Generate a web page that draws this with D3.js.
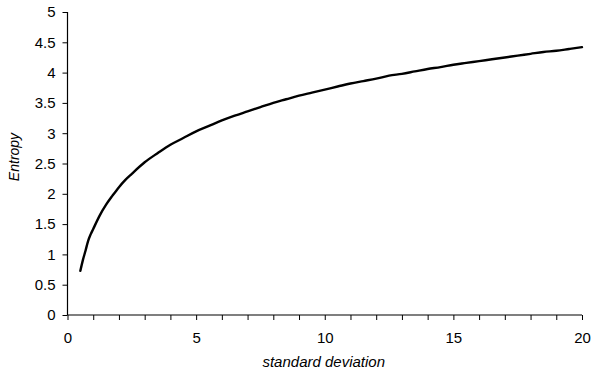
<!DOCTYPE html>
<html>
<head>
<meta charset="utf-8">
<script src="https://cdn.jsdelivr.net/npm/d3@7"></script>
<style>
  html, body { margin: 0; padding: 0; background: #fff; }
  svg { display: block; font-family: "Liberation Sans", Arial, sans-serif; }
</style>
</head>
<body>
<svg id="chart" width="591" height="375"></svg>
<script>
// Standard deviation (x) and the entropy measured at each value (y)
const sigma = [0.5, 0.6, 0.7, 0.8, 0.9, 1.0, 1.25, 1.5, 1.75, 2.0, 2.25, 2.5, 3.0, 3.5, 4.0, 4.5,
  5.0, 5.5, 6.0, 6.5, 7.0, 7.5, 8.0, 8.5, 9.0, 9.5, 10, 10.5, 11, 11.5, 12, 12.5, 13, 13.5,
  14, 14.5, 15, 15.5, 16, 16.5, 17, 17.5, 18, 18.5, 19, 19.5, 20];
const entropy = [0.73, 0.91, 1.06, 1.22, 1.33, 1.42, 1.64, 1.82, 1.97, 2.11, 2.23, 2.33, 2.52, 2.67, 2.81, 2.92,
  3.03, 3.12, 3.21, 3.29, 3.36, 3.43, 3.50, 3.56, 3.62, 3.67, 3.72, 3.77, 3.82, 3.86, 3.90, 3.95, 3.98, 4.02,
  4.06, 4.09, 4.13, 4.16, 4.19, 4.22, 4.25, 4.28, 4.31, 4.34, 4.36, 4.39, 4.42];
const xTickLabels = [0, 5, 10, 15, 20];
const yTickLabels = [0, 0.5, 1, 1.5, 2, 2.5, 3, 3.5, 4, 4.5, 5];

const svg = d3.select("#chart");
const plotLeft = 67.5, plotRight = 582, plotTop = 12, plotBottom = 315;

const x = d3.scaleLinear().domain([0, 20]).range([plotLeft, plotRight]);
const y = d3.scaleLinear().domain([0, 5]).range([plotBottom, plotTop]);

// y axis
const yAxis = svg.append("g")
  .attr("transform", `translate(${plotLeft},0)`)
  .call(d3.axisLeft(y).tickValues(yTickLabels).tickSize(5).tickPadding(7)
    .tickFormat(d => String(d)));
// x axis: minor ticks each unit, labels every 5
const xAxis = svg.append("g")
  .attr("transform", `translate(0,${plotBottom})`)
  .call(d3.axisBottom(x).tickValues(d3.range(0, 21, 1)).tickSize(5).tickPadding(12)
    .tickFormat(d => xTickLabels.includes(d) ? String(d) : ""));

svg.selectAll(".domain").attr("stroke", "#000").attr("stroke-width", 1.2);
svg.selectAll(".tick line").attr("stroke", "#000");
svg.selectAll(".tick text").attr("fill", "#000").attr("font-size", 15)
  .attr("font-family", "'Liberation Sans', Arial, sans-serif");
yAxis.select(".domain").attr("d", `M0,${plotTop}V${plotBottom}`);
xAxis.select(".domain").attr("d", `M${plotLeft},0H${plotRight}`);

// entropy curve
const pts = sigma.map((s, i) => [s, entropy[i]]);
svg.append("path")
  .datum(pts)
  .attr("fill", "none")
  .attr("stroke", "#000")
  .attr("stroke-width", 2.4)
  .attr("stroke-linejoin", "round")
  .attr("stroke-linecap", "round")
  .attr("d", d3.line().x(d => x(d[0])).y(d => y(d[1])).curve(d3.curveMonotoneX));

// axis titles
svg.append("text")
  .attr("x", (plotLeft + plotRight) / 2 - 1).attr("y", 367)
  .attr("text-anchor", "middle")
  .attr("font-size", 15).attr("font-style", "italic")
  .text("standard deviation");
svg.append("text")
  .attr("transform", "translate(19,157) rotate(-90)")
  .attr("text-anchor", "middle")
  .attr("font-size", 14).attr("font-style", "italic")
  .text("Entropy");
</script>
</body>
</html>
